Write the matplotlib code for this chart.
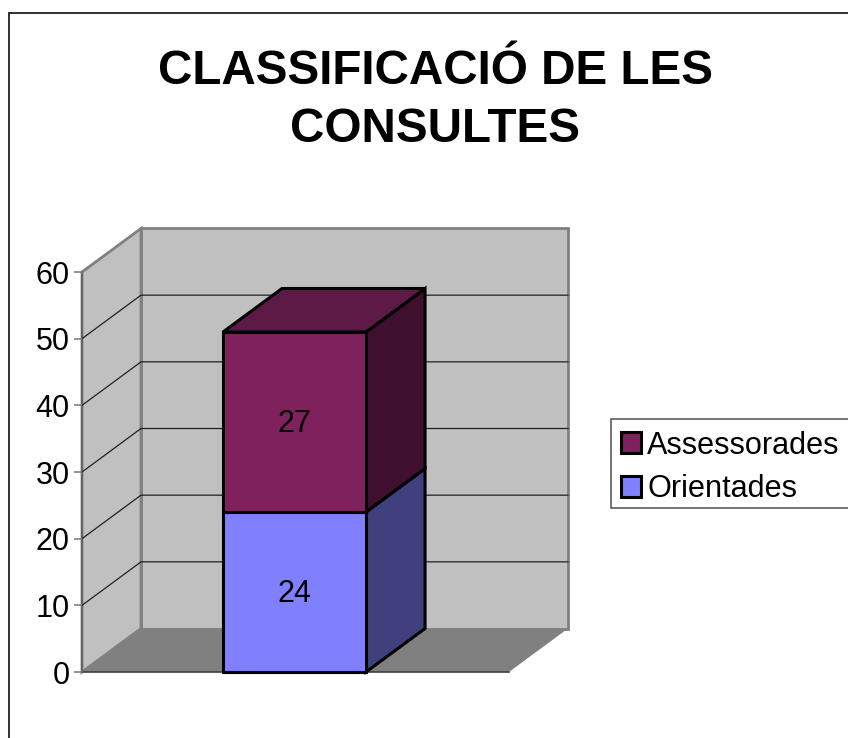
import matplotlib
matplotlib.use("Agg")
import matplotlib.pyplot as plt
from matplotlib.patches import Patch, Polygon, Rectangle

plt.rcParams['font.family'] = ['Liberation Sans', 'DejaVu Sans']

title = "CLASSIFICACIÓ DE LES\nCONSULTES"
series_names = ["Orientades", "Assessorades"]
series_values = [24, 27]
y_ticks = [0, 10, 20, 30, 40, 50, 60]
front_colors = ["#8080FF", "#7F215C"]
top_colors = ["#5B5BB5", "#5E1A46"]
side_colors = ["#40407F", "#3E102E"]

W, H = 848, 738
fig = plt.figure(figsize=(W / 100, H / 100), dpi=100, facecolor="white")
fig.add_artist(Rectangle((9 / W, -0.01), 1.1, (H - 12.5) / H + 0.01, transform=fig.transFigure,
                         fill=False, edgecolor="#202020", linewidth=1.3))

left, right, top, bottom = 82, 509, 272, 672
ax = fig.add_axes([left / W, (H - bottom) / H, (right - left) / W, (bottom - top) / H])
ax.set_xlim(-0.5, 0.5)
ax.set_ylim(0, 60)
ax.patch.set_visible(False)
for s in ax.spines.values():
    s.set_visible(False)
ax.set_xticks([])
ax.set_yticks(y_ticks)
ax.tick_params(axis="y", labelsize=22, length=6, width=1.2, color="#808080", pad=3)

# depth of the 3D projection, in data units
dx = 59 / (right - left)
dy = 43.5 / (bottom - top) * 60
x0, x1 = -0.5, 0.5
ymax = y_ticks[-1]
wall = "#C0C0C0"
edge = "#808080"


def poly(pts, fc, ec, lw, z):
    ax.add_patch(Polygon(pts, closed=True, facecolor=fc, edgecolor=ec, linewidth=lw,
                         zorder=z, clip_on=False, joinstyle="miter"))


# back wall, side wall, floor
poly([(x0 + dx, dy), (x1 + dx, dy), (x1 + dx, ymax + dy), (x0 + dx, ymax + dy)], wall, edge, 2, 1)
poly([(x0, 0), (x0 + dx, dy), (x0 + dx, ymax + dy), (x0, ymax)], wall, edge, 2, 1.1)
poly([(x0, 0), (x1, 0), (x1 + dx, dy), (x0 + dx, dy)], "#808080", "none", 0, 1.2)
ax.plot([x0, x1], [0, 0], color="#404040", lw=1.2, zorder=1.3, clip_on=False)
ax.plot([x0, x0], [0, ymax], color="#606060", lw=1.2, zorder=1.3, clip_on=False)

# gridlines
for t in y_ticks[1:-1]:
    ax.plot([x0, x0 + dx, x1 + dx], [t, t + dy, t + dy], color="#202020", lw=0.9,
            zorder=1.5, clip_on=False, solid_joinstyle="miter")

# stacked 3D bar
bw = 0.335
bl, br = -0.5 + 141 / 427, -0.5 + 141 / 427 + bw
base = 0
for val, fc, tc, sc in zip(series_values, front_colors, top_colors, side_colors):
    t = base + val
    poly([(br, base), (br + dx, base + dy), (br + dx, t + dy), (br, t)], sc, "black", 2.2, 3)
    poly([(bl, base), (br, base), (br, t), (bl, t)], fc, "black", 2.2, 3.2)
    base = t
poly([(bl, base), (br, base), (br + dx, base + dy), (bl + dx, base + dy)], top_colors[-1], "black", 2.2, 3.1)

base = 0
for val in series_values:
    ax.text((bl + br) / 2, base + val / 2 - 0.3, str(val), ha="center", va="center",
            fontsize=22, color="black", zorder=5)
    base += val

fig.text(435 / W, 1 - 100.5 / H, title, ha="center", va="center", fontsize=34.3,
         fontweight="bold", color="black", linespacing=1.38)

# legend box runs past the right edge of the figure, as in the reference
fig.add_artist(Rectangle((611 / W, 1 - 508 / H), 0.3, 89 / H, transform=fig.transFigure,
                         facecolor="white", edgecolor="#505050", linewidth=1.1))
handles = [Patch(facecolor=front_colors[i], edgecolor="black", linewidth=2.2, label=series_names[i])
           for i in (1, 0)]
leg = fig.legend(handles=handles, loc="upper left", bbox_to_anchor=(621 / W, 1 - 430.5 / H),
                 bbox_transform=fig.transFigure, fontsize=22.1, frameon=False,
                 borderaxespad=0, borderpad=0,
                 handlelength=0.65, handleheight=0.65, handletextpad=0.2, labelspacing=0.45)

fig.savefig("out.png", dpi=100, facecolor="white")
